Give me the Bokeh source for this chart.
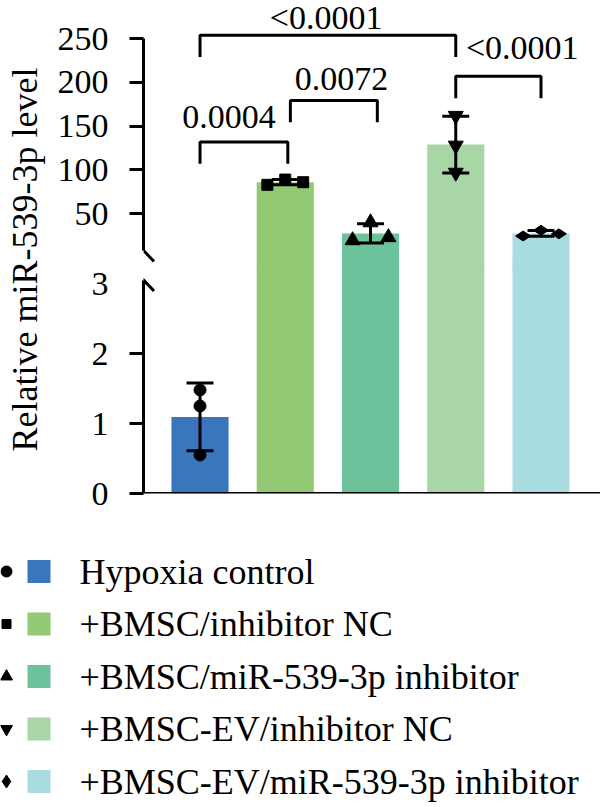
import math
import numpy as np
from bokeh.plotting import figure
from bokeh.models import Range1d, FixedTicker, Span, Arrow
from bokeh.layouts import column, row
from bokeh.core.properties import value
from bokeh.embed import file_html
from bokeh.resources import INLINE

# ---------------- data ----------------
groups = ["Hypoxia control", "+BMSC/inhibitor NC", "+BMSC/miR-539-3p inhibitor",
          "+BMSC-EV/inhibitor NC", "+BMSC-EV/miR-539-3p inhibitor"]
hypoxia_control = [1.48, 1.25, 0.55]
bmsc_inhibitor_nc = [83.0, 89.0, 86.0]
bmsc_mir539_inhibitor = [19.5, 40.0, 23.0]
bmsc_ev_inhibitor_nc = [162.0, 128.0, 97.0]
bmsc_ev_mir539_inhibitor = [24.5, 31.0, 27.0]

low_ticks = [0, 1, 2]
low_break_label = 3
high_ticks = [50, 100, 150, 200, 250]

sig_left = [1, 2, 1, 4]
sig_right = [2, 3, 4, 5]
sig_y = [132, 179.5, 254, 207]
sig_labels = ["0.0004", "0.0072", "<0.0001", "<0.0001"]
sig_label_x = [1.34, 2.66, 2.48, 4.78]
sig_label_y = [161, 204.5, 274.5, 239.5]

y_label = "Relative miR-539-3p level"

# ---------------- styles ----------------
colors = ["#3a76bd", "#93c972", "#6cc29b", "#a8d6a6", "#a9dce1"]
markers = ["circle", "square", "triangle", "inverted_triangle", "diamond"]
marker_sizes = [12, 11, 15, 15, 15]
marker_angles = [0, 0, 0, 0, math.pi / 2]
legend_marker_sizes = [11, 9, 12, 12, 13]
jitter = [0, 0.21, 0.21, 0, 0.21]
sig_nudge_left = [0, 0.06, 0, 0]
sig_nudge_right = [0.03, 0.08, 0, 0]
FONT = "Liberation Serif"
LW = 3
OVERLAP = 2  # px the lower panel slides under the upper one (hides the seam)

replicates = [hypoxia_control, bmsc_inhibitor_nc, bmsc_mir539_inhibitor,
              bmsc_ev_inhibitor_nc, bmsc_ev_mir539_inhibitor]
means = [float(np.mean(r)) for r in replicates]
sds = [float(np.std(r, ddof=1)) for r in replicates]
xs = list(range(1, len(groups) + 1))

low_top_bound = 3.05
high_bottom_bound = 8

xr = Range1d(0.337, 5.698)


def style_axis(ax, ticks, bounds):
    ax.ticker = FixedTicker(ticks=ticks)
    ax.bounds = bounds
    ax.axis_line_width = LW
    ax.axis_line_color = "black"
    ax.major_tick_line_width = LW
    ax.major_tick_line_color = "black"
    ax.major_tick_out = 14
    ax.major_tick_in = 0
    ax.minor_tick_line_color = None
    ax.major_label_text_font = FONT
    ax.major_label_text_font_size = "34px"
    ax.major_label_text_color = "black"
    ax.major_label_standoff = 21


def make_fig(height, yrange, bottom_border):
    f = figure(width=550, height=height, x_range=xr, y_range=yrange,
               x_axis_location=None, output_backend="svg", toolbar_location=None,
               min_border_left=93, min_border_right=0, min_border_top=0,
               min_border_bottom=bottom_border)
    f.grid.visible = False
    f.outline_line_color = None
    f.background_fill_color = None
    f.border_fill_color = None
    return f


def draw_groups(f, idx, bar_bottom):
    f.vbar(x=[xs[i] for i in idx], top=[means[i] for i in idx], bottom=bar_bottom,
           width=0.67, fill_color=[colors[i] for i in idx], line_color=None)
    for i in idx:
        lo, hi = means[i] - sds[i], means[i] + sds[i]
        f.segment(x0=[xs[i]], y0=[lo], x1=[xs[i]], y1=[hi], line_width=LW, line_color="black")
        f.segment(x0=[xs[i] - 0.158] * 2, y0=[lo, hi], x1=[xs[i] + 0.158] * 2, y1=[lo, hi],
                  line_width=LW, line_color="black")
    for i in idx:
        n = len(replicates[i])
        offs = [(k - (n - 1) / 2) * jitter[i] for k in range(n)]
        f.scatter(x=[xs[i] + o for o in offs], y=replicates[i], marker=markers[i],
                  size=marker_sizes[i], angle=marker_angles[i],
                  fill_color="black", line_color="black")


def slash(f, yc, px_per_y):
    dx = 10.5 / 85.25
    dy = 11 / px_per_y
    f.add_layout(Arrow(end=None, x_start=xr.start - dx, y_start=yc + dy,
                       x_end=xr.start + dx, y_end=yc - dy,
                       line_width=LW, line_color="black"))


# ---- upper segment ----
high = make_fig(265, Range1d(-9.2, 293.7), 0)
style_axis(high.yaxis[0], high_ticks, (high_bottom_bound, max(high_ticks)))
high_idx = [i for i in range(len(groups)) if means[i] > low_top_bound]
draw_groups(high, high_idx, high.y_range.start - 40)
bx, by = [], []
for a, b, yv, na, nb in zip(sig_left, sig_right, sig_y, sig_nudge_left, sig_nudge_right):
    bx.append([a + na, a + na, b + nb, b + nb])
    by.append([yv - 25, yv, yv, yv - 25])
high.multi_line(xs=bx, ys=by, line_width=LW, line_color="black")
high.text(x=sig_label_x, y=sig_label_y, text=sig_labels, text_font=value(FONT),
          text_font_size="34px", text_align="center", text_baseline="middle",
          text_color="black")
slash(high, high_bottom_bound, 0.875)

# ---- lower segment ----
low = make_fig(250 + OVERLAP, Range1d(0, (228 + OVERLAP) / 70), 22)
low.margin = (-OVERLAP, 0, 0, 0)
style_axis(low.yaxis[0], low_ticks, (0, low_top_bound))
low_idx = [i for i in range(len(groups)) if means[i] <= low_top_bound]
low.vbar(x=[xs[i] for i in high_idx], top=[means[i] for i in high_idx], bottom=0,
         width=0.67, fill_color=[colors[i] for i in high_idx], line_color=None)
draw_groups(low, low_idx, 0)
low.add_layout(Span(location=0, dimension="width", line_width=LW, line_color="black"))
low.text(x=[xr.start], y=[low_break_label], text=[str(low_break_label)], x_offset=-35,
         text_align="right", text_baseline="middle", text_font=value(FONT),
         text_font_size="34px", text_color="black", level="overlay")
slash(low, low_top_bound, 70)

# ---- y label ----
lab = figure(width=50, height=515, x_range=Range1d(0, 50), y_range=Range1d(0, 515),
             x_axis_location=None, y_axis_location=None, output_backend="svg",
             toolbar_location=None, min_border=0)
lab.grid.visible = False
lab.outline_line_color = None
lab.text(x=[24], y=[256], text=[y_label], angle=math.pi / 2, text_font=value(FONT),
         text_font_size="36px", text_align="center", text_baseline="middle",
         text_color="black")

# ---- legend ----
leg = figure(width=600, height=292, x_range=Range1d(0, 600), y_range=Range1d(292, 0),
             x_axis_location=None, y_axis_location=None, output_backend="svg",
             toolbar_location=None, min_border=0)
leg.grid.visible = False
leg.outline_line_color = None
row_y = [56 + k * 52.5 for k in range(len(groups))]
for k in range(len(groups)):
    leg.scatter(x=[6], y=[row_y[k]], marker=markers[k], size=legend_marker_sizes[k],
                fill_color="black", line_color="black")
leg.scatter(x=[38.5] * len(groups), y=row_y, marker="square", size=23,
            fill_color=colors, line_color=None)
leg.text(x=[79] * len(groups), y=row_y, text=groups, text_font=value(FONT),
         text_font_size="36px", text_align="left", text_baseline="middle",
         text_color="black")

layout = column(row(lab, column(high, low, spacing=0), spacing=0), leg, spacing=0)
open("out.html", "w").write(file_html(layout, INLINE))
